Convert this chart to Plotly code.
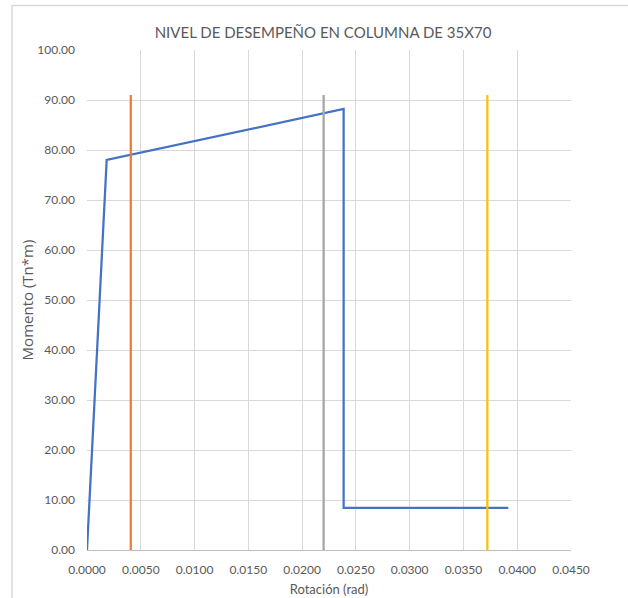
import plotly.graph_objects as go

# Moment-rotation curve of the column (rad, Tn*m)
rot = [0.0, 0.00183, 0.02386, 0.02386, 0.03917]
mom = [0.0, 78.0, 88.2, 8.45, 8.45]

# Performance level limits (rotation, rad) and their line heights
lim_names = ["IO", "LS", "CP"]
lim_rot = [0.00407, 0.0220, 0.03722]
lim_top = [91.0, 91.0, 91.0]
lim_colors = ["#ED7D31", "#A5A5A5", "#FFC000"]

x_ticks = [i * 0.005 for i in range(10)]
y_ticks = [i * 10 for i in range(11)]

font_family = "Lato, 'Open Sans', sans-serif"
txt = "#595959"

fig = go.Figure()
fig.add_trace(go.Scatter(x=rot, y=mom, mode="lines",
                         line=dict(color="#4472C4", width=2.25),
                         name="Curva", showlegend=False))
for n, xr, top, c in zip(lim_names, lim_rot, lim_top, lim_colors):
    fig.add_trace(go.Scatter(x=[xr, xr], y=[0, top], mode="lines",
                             line=dict(color=c, width=2.25),
                             name=n, showlegend=False))

fig.update_layout(
    width=628, height=598,
    margin=dict(l=87, r=57, t=50, b=48),
    paper_bgcolor="white", plot_bgcolor="white",
    font=dict(family=font_family, color=txt, size=12),
    title=dict(text="NIVEL DE DESEMPEÑO EN COLUMNA DE 35X70",
               x=323 / 628, xanchor="center", y=1 - 33 / 598, yanchor="middle",
               font=dict(size=15, color=txt, family=font_family)),
    xaxis=dict(range=[0, 0.045], tickvals=x_ticks, tickformat=".4f",
               automargin=False,
               showgrid=True, gridcolor="#D9D9D9", gridwidth=1,
               zeroline=False, showline=True, linecolor="#BFBFBF", linewidth=1,
               ticks="", ticklabelstandoff=9, tickfont=dict(size=12, color=txt),
               title=dict(text="Rotación (rad)", standoff=8,
                          font=dict(size=13, color=txt))),
    yaxis=dict(range=[0, 100], tickvals=y_ticks, tickformat=".2f",
               automargin=False,
               showgrid=True, gridcolor="#D9D9D9", gridwidth=1,
               zeroline=False, showline=False,
               ticks="", ticklabelstandoff=11, tickfont=dict(size=12, color=txt),
               title=dict(text="Momento (Tn*m)", standoff=0,
                          font=dict(size=15, color=txt,
                                    family="'Open Sans', sans-serif"))),
    shapes=[dict(type="rect", xref="paper", yref="paper",
                 x0=(12 - 87) / 484, x1=(640 - 87) / 484,
                 y0=-(610 - 550) / 500, y1=1 + (50 - 5.5) / 500,
                 line=dict(color="#D9D9D9", width=1.5), layer="below")],
)

fig.write_html("out.html")
